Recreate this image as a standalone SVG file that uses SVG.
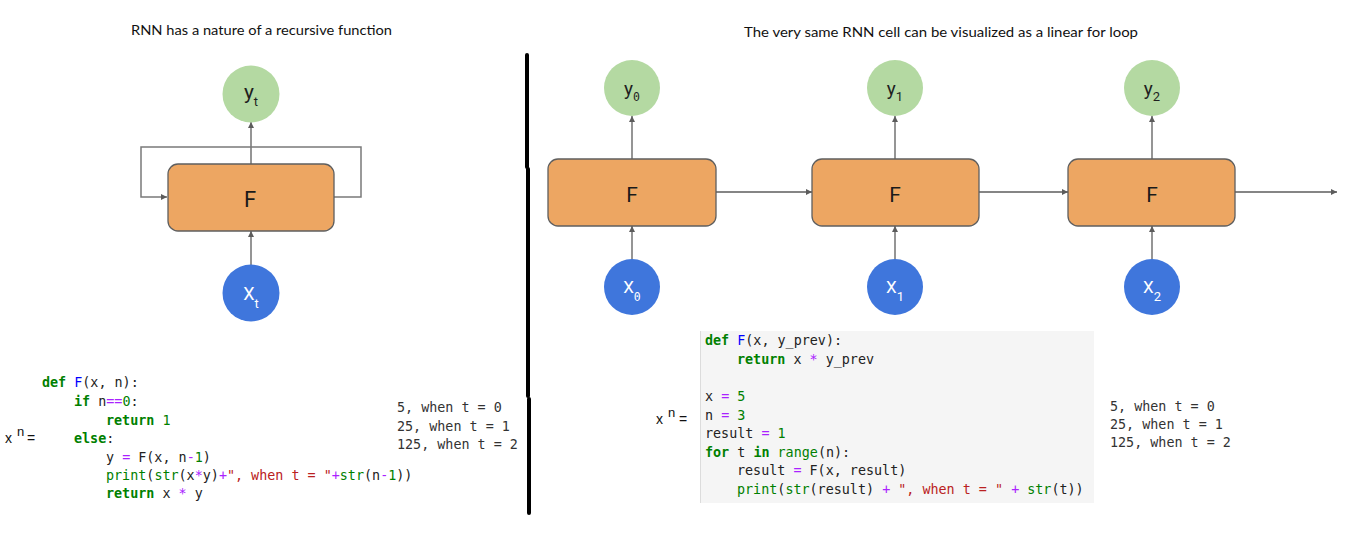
<svg xmlns="http://www.w3.org/2000/svg" width="1360" height="539" viewBox="0 0 1360 539">
<style>
  .title { font-family: Lato, "Liberation Sans", sans-serif; font-size: 14px; fill: #111; }
  .box { fill: #eda662; stroke: #5f5f5f; stroke-width: 1.3; }
  .yc { fill: #b4d9a2; }
  .xc { fill: #3f76dc; }
  .nodeF { font-family: Roboto, "Liberation Sans", sans-serif; font-size: 21px; fill: #1a1a1a; text-anchor: middle; }
  .ylab { font-family: Roboto, "Liberation Sans", sans-serif; font-size: 19px; fill: #1f1f1f; text-anchor: middle; }
  .xlab { font-family: Roboto, "Liberation Sans", sans-serif; font-size: 17px; fill: #ffffff; text-anchor: middle; }
  .sub { font-size: 13px; }
  .sub0 { font-family: "DejaVu Sans Mono", monospace; font-size: 11.5px; }
  .conn { stroke: #5c5c5c; stroke-width: 1.3; fill: none; }
  .loop { stroke: #7a7a7a; stroke-width: 1.5; fill: none; }
  .code { font-family: "DejaVu Sans Mono", "Liberation Mono", monospace; font-size: 13.4px; fill: #222; white-space: pre; }
  .out { font-family: "DejaVu Sans Mono", "Liberation Mono", monospace; font-size: 13.4px; fill: #333; white-space: pre; }
  .kw { fill: #008000; font-weight: bold; }
  .bi { fill: #008000; }
  .fn { fill: #0000ff; }
  .op { fill: #aa22ff; }
  .num { fill: #008000; }
  .str { fill: #ba2121; }
  .math { font-family: "Liberation Sans", sans-serif; font-size: 14px; fill: #111; }
  .divider { stroke: #000; stroke-width: 4; stroke-linecap: round; }
</style>
<defs>
  <marker id="arr" viewBox="0 0 10 10" refX="10" refY="5" markerWidth="6" markerHeight="6" markerUnits="userSpaceOnUse" orient="auto">
    <path d="M0,0 L10,5 L0,10 z" fill="#5c5c5c"/>
  </marker>
</defs>

<!-- Titles -->
<text class="title" x="131" y="35" textLength="261" lengthAdjust="spacingAndGlyphs">RNN has a nature of a recursive function</text>
<text class="title" x="744" y="37" textLength="394" lengthAdjust="spacingAndGlyphs">The very same RNN cell can be visualized as a linear for loop</text>

<!-- Divider -->
<g id="divider">
  <line class="divider" x1="527" y1="55" x2="527" y2="167"/>
  <line class="divider" x1="528" y1="169" x2="528" y2="396"/>
  <line class="divider" x1="529" y1="399" x2="529" y2="513"/>
</g>

<!-- Connectors -->
<g id="connectors">
  <!-- left recursive -->
  <line class="conn" x1="251" y1="164" x2="251" y2="122" marker-end="url(#arr)"/>
  <line class="conn" x1="251" y1="265" x2="251" y2="231" marker-end="url(#arr)"/>
  <polyline class="loop" points="334,197 361,197 361,147 141,147 141,197 167,197" marker-end="url(#arr)"/>
  <!-- right unrolled -->
  <line class="conn" x1="632" y1="159" x2="632" y2="116" marker-end="url(#arr)"/>
  <line class="conn" x1="632" y1="260" x2="632" y2="226" marker-end="url(#arr)"/>
  <line class="conn" x1="895" y1="159" x2="895" y2="116" marker-end="url(#arr)"/>
  <line class="conn" x1="895" y1="260" x2="895" y2="226" marker-end="url(#arr)"/>
  <line class="conn" x1="1152" y1="159" x2="1152" y2="116" marker-end="url(#arr)"/>
  <line class="conn" x1="1152" y1="260" x2="1152" y2="226" marker-end="url(#arr)"/>
  <line class="conn" x1="716" y1="192" x2="812" y2="192" marker-end="url(#arr)"/>
  <line class="conn" x1="979" y1="192" x2="1068" y2="192" marker-end="url(#arr)"/>
  <line class="conn" x1="1235" y1="192" x2="1337" y2="192" marker-end="url(#arr)"/>
</g>

<!-- Left nodes -->
<g id="yt">
  <circle class="yc" cx="251" cy="94" r="28.5"/>
  <text class="ylab" x="251" y="99" style="font-size:21px">y<tspan class="sub" style="font-size:13px" dy="7">t</tspan></text>
</g>
<g id="Frec">
  <rect class="box" x="168" y="164" width="166" height="67" rx="10"/>
  <text class="nodeF" x="250" y="207" style="font-size:22px">F</text>
</g>
<g id="Xt">
  <circle class="xc" cx="251" cy="293" r="28.5"/>
  <text class="xlab" x="251" y="300" style="font-size:18px">X<tspan class="sub" style="font-size:13px" dy="8">t</tspan></text>
</g>

<!-- Right nodes: cell 0 -->
<g id="y0">
  <circle class="yc" cx="632" cy="88" r="28"/>
  <text class="ylab" x="632" y="95">y<tspan class="sub0" dy="6">0</tspan></text>
</g>
<g id="F0">
  <rect class="box" x="548" y="159" width="168" height="67" rx="10"/>
  <text class="nodeF" x="632" y="202">F</text>
</g>
<g id="X0">
  <circle class="xc" cx="632" cy="287" r="28"/>
  <text class="xlab" x="632" y="293">X<tspan class="sub0" dy="8">0</tspan></text>
</g>

<!-- cell 1 -->
<g id="y1">
  <circle class="yc" cx="895" cy="88" r="28"/>
  <text class="ylab" x="895" y="95">y<tspan class="sub" dy="6">1</tspan></text>
</g>
<g id="F1">
  <rect class="box" x="812" y="159" width="167" height="67" rx="10"/>
  <text class="nodeF" x="895" y="202">F</text>
</g>
<g id="X1">
  <circle class="xc" cx="895" cy="287" r="28"/>
  <text class="xlab" x="895" y="293">X<tspan class="sub" dy="8">1</tspan></text>
</g>

<!-- cell 2 -->
<g id="y2">
  <circle class="yc" cx="1152" cy="88" r="28"/>
  <text class="ylab" x="1152" y="95">y<tspan class="sub" dy="6">2</tspan></text>
</g>
<g id="F2">
  <rect class="box" x="1068" y="159" width="167" height="67" rx="10"/>
  <text class="nodeF" x="1152" y="202">F</text>
</g>
<g id="X2">
  <circle class="xc" cx="1152" cy="287" r="28"/>
  <text class="xlab" x="1152" y="293">X<tspan class="sub" dy="8">2</tspan></text>
</g>

<!-- Left code -->
<g id="left-code">
  <text class="math" x="5" y="443">x<tspan x="17" y="436" font-size="13">n</tspan><tspan x="27" y="443">=</tspan></text>
  <text class="code" x="42" y="387"><tspan class="kw">def</tspan> <tspan class="fn">F</tspan>(x, n):</text>
  <text class="code" x="74" y="406"><tspan class="kw">if</tspan> n<tspan class="op">==</tspan><tspan class="num">0</tspan>:</text>
  <text class="code" x="106" y="425"><tspan class="kw">return</tspan> <tspan class="num">1</tspan></text>
  <text class="code" x="74" y="443"><tspan class="kw">else</tspan>:</text>
  <text class="code" x="106" y="462">y <tspan class="op">=</tspan> F(x, n<tspan class="op">-</tspan><tspan class="num">1</tspan>)</text>
  <text class="code" x="106" y="480"><tspan class="bi">print</tspan>(<tspan class="bi">str</tspan>(x<tspan class="op">*</tspan>y)<tspan class="op">+</tspan><tspan class="str">", when t = "</tspan><tspan class="op">+</tspan><tspan class="bi">str</tspan>(n<tspan class="op">-</tspan><tspan class="num">1</tspan>))</text>
  <text class="code" x="106" y="498"><tspan class="kw">return</tspan> x <tspan class="op">*</tspan> y</text>
  <text class="out" x="397" y="412">5, when t = 0</text>
  <text class="out" x="397" y="431">25, when t = 1</text>
  <text class="out" x="397" y="449">125, when t = 2</text>
</g>

<!-- Right code -->
<g id="right-code">
  <rect x="700" y="331" width="394" height="172" fill="#f5f5f5"/>
  <line x1="700.5" y1="331" x2="700.5" y2="503" stroke="#dcdcdc" stroke-width="1"/>
  <text class="math" x="656" y="424">x<tspan x="668" y="417" font-size="13">n</tspan><tspan x="679" y="424">=</tspan></text>
  <text class="code" x="705" y="345"><tspan class="kw">def</tspan> <tspan class="fn">F</tspan>(x, y_prev):</text>
  <text class="code" x="737" y="364"><tspan class="kw">return</tspan> x <tspan class="op">*</tspan> y_prev</text>
  <text class="code" x="705" y="401">x <tspan class="op">=</tspan> <tspan class="num">5</tspan></text>
  <text class="code" x="705" y="420">n <tspan class="op">=</tspan> <tspan class="num">3</tspan></text>
  <text class="code" x="705" y="438">result <tspan class="op">=</tspan> <tspan class="num">1</tspan></text>
  <text class="code" x="705" y="457"><tspan class="kw">for</tspan> t <tspan class="kw">in</tspan> <tspan class="bi">range</tspan>(n):</text>
  <text class="code" x="737" y="475">result <tspan class="op">=</tspan> F(x, result)</text>
  <text class="code" x="737" y="494"><tspan class="bi">print</tspan>(<tspan class="bi">str</tspan>(result) <tspan class="op">+</tspan> <tspan class="str">", when t = "</tspan> <tspan class="op">+</tspan> <tspan class="bi">str</tspan>(t))</text>
  <text class="out" x="1110" y="411">5, when t = 0</text>
  <text class="out" x="1110" y="429">25, when t = 1</text>
  <text class="out" x="1110" y="447">125, when t = 2</text>
</g>
</svg>
